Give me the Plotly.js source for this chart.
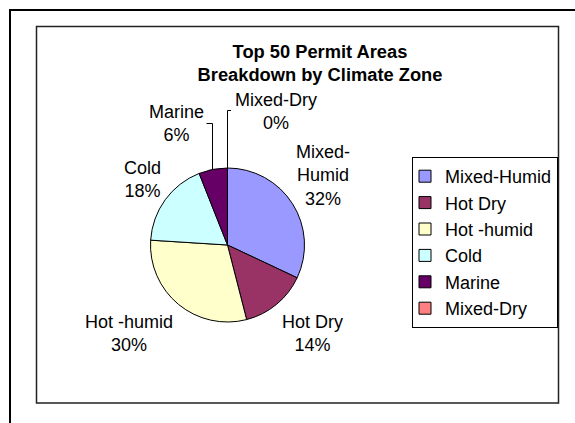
<!DOCTYPE html>
<html>
<head>
<meta charset="utf-8">
<script src="https://cdn.plot.ly/plotly-3.0.1.min.js"></script>
<style>
  html, body { margin: 0; padding: 0; background: #fff; }
  #chart { width: 575px; height: 423px; }
</style>
</head>
<body>
<div id="chart"></div>
<script>
// ---- data ----
const zones = ["Mixed-Humid", "Hot Dry", "Hot -humid", "Cold", "Marine", "Mixed-Dry"];
const areaCounts = [16, 7, 15, 9, 3, 0];
const zoneColors = ["#9999FF", "#993366", "#FFFFCC", "#CCFFFF", "#660066", "#FF8080"];
const chartTitle = "Top 50 Permit Areas<br>Breakdown by Climate Zone";

// ---- layout helpers (pixel -> paper) ----
const W = 575, H = 423;
const px = x => x / W;
const py = y => 1 - y / H;
const FONT = "Arial, 'Liberation Sans', sans-serif";

const total = areaCounts.reduce((a, b) => a + b, 0);
const pctText = v => Math.round(100 * v / total) + "%";

// label text (line-broken like the original) and label centres in pixels
const labelLines = ["Mixed-<br>Humid", "Hot Dry", "Hot -humid", "Cold", "Marine", "Mixed-Dry"];
const labelPos = [[323, 176], [312, 333], [129, 333], [142, 179], [176, 124], [276, 111]];

const annotations = zones.map((z, i) => ({
  text: labelLines[i] + "<br>" + pctText(areaCounts[i]),
  x: px(labelPos[i][0]), y: py(labelPos[i][1]),
  xref: "paper", yref: "paper",
  xanchor: "center", yanchor: "middle",
  showarrow: false, align: "center",
  font: { family: FONT, size: 18, color: "#000" }
}));

const line = (pts) => "M" + pts.map(p => px(p[0]) + "," + py(p[1])).join("L");

const shapes = [
  // outer frame
  { type: "rect", xref: "paper", yref: "paper", x0: px(10), x1: px(590), y0: py(10), y1: py(440),
    line: { color: "#000", width: 2 }, fillcolor: "rgba(0,0,0,0)" },
  // inner plot frame
  { type: "rect", xref: "paper", yref: "paper", x0: px(36.5), x1: px(558.5), y0: py(26.5), y1: py(403),
    line: { color: "#222", width: 1.5 }, fillcolor: "rgba(0,0,0,0)" },
  // leader lines
  { type: "path", xref: "paper", yref: "paper", path: line([[206.5, 123.5], [212.5, 123.5], [212.5, 169]]),
    line: { color: "#000", width: 1 } },
  { type: "path", xref: "paper", yref: "paper", path: line([[231, 110.5], [227.5, 110.5], [227.5, 168]]),
    line: { color: "#000", width: 1 } }
];

const trace = {
  type: "pie",
  labels: zones,
  values: areaCounts,
  sort: false,
  direction: "clockwise",
  rotation: 0,
  textinfo: "none",
  hoverinfo: "label+percent",
  marker: { colors: zoneColors, line: { color: "#000", width: 1 } },
  domain: { x: [px(150.5), px(304.5)], y: [py(322), py(168)] },
  showlegend: true
};

const layout = {
  width: W, height: H,
  margin: { l: 0, r: 0, t: 0, b: 0 },
  paper_bgcolor: "#fff",
  plot_bgcolor: "#fff",
  font: { family: FONT, size: 18, color: "#000" },
  title: {
    text: "<b>" + chartTitle.replace("<br>", "</b><br><b>") + "</b>",
    font: { family: FONT, size: 18.3, color: "#000" },
    x: px(320), xanchor: "center", xref: "paper",
    y: py(57.5), yanchor: "middle", yref: "container"
  },
  showlegend: true,
  legend: {
    x: px(412), xanchor: "left",
    y: py(157), yanchor: "top",
    bordercolor: "#000", borderwidth: 1,
    bgcolor: "#fff",
    indentation: -8,
    font: { family: FONT, size: 18, color: "#000" },
    traceorder: "normal",
    itemwidth: 30
  },
  annotations: annotations,
  shapes: shapes
};

Plotly.newPlot("chart", [trace], layout, { displayModeBar: false, staticPlot: true });
</script>
</body>
</html>
